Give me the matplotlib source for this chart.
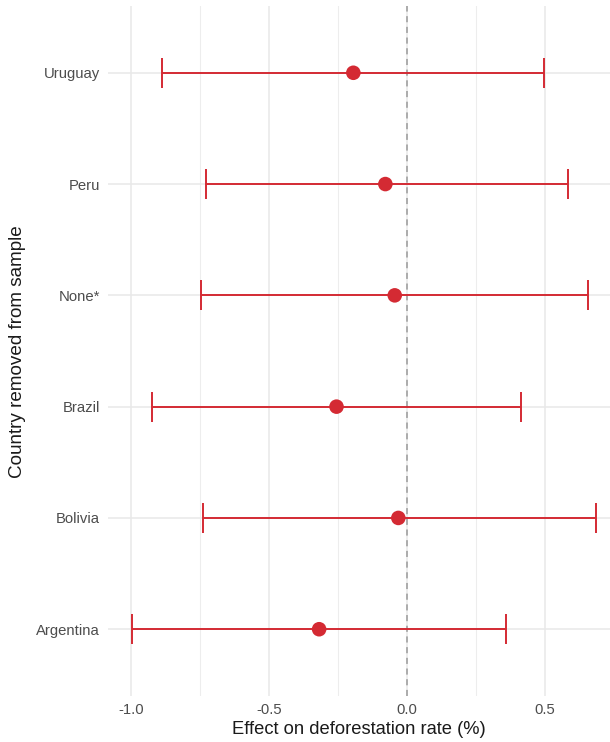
import matplotlib
matplotlib.use("Agg")
import matplotlib.pyplot as plt
from matplotlib.ticker import MultipleLocator

plt.rcParams['font.family'] = ['Liberation Sans', 'DejaVu Sans']

countries = ["Argentina", "Bolivia", "Brazil", "None*", "Peru", "Uruguay"]
estimate = [-0.319, -0.032, -0.256, -0.045, -0.079, -0.195]
lower = [-0.998, -0.739, -0.923, -0.748, -0.728, -0.889]
upper = [0.357, 0.685, 0.414, 0.657, 0.584, 0.496]
xticks = [-1.0, -0.5, 0.0, 0.5]
xticklabels = ["-1.0", "-0.5", "0.0", "0.5"]

red = "#d42a33"

fig = plt.figure(figsize=(6.10, 7.42), dpi=100)
ax = fig.add_axes([108/610, 1 - 696/742, 1 - 108/610, (696 - 6)/742])

ypos = list(range(1, len(countries) + 1))
ax.set_xlim(-1.084, 0.735)
ax.set_ylim(0.4, len(countries) + 0.6)

# grid
ax.set_xticks(xticks)
ax.set_xticklabels(xticklabels)
ax.xaxis.set_minor_locator(MultipleLocator(0.25))
ax.set_yticks(ypos)
ax.set_yticklabels(countries)
ax.grid(True, which="major", color="#e8e8e8", linewidth=1.1)
ax.grid(True, which="minor", axis="x", color="#ededed", linewidth=0.8)
ax.set_axisbelow(True)

ax.axvline(0, color="#9a9a9a", linestyle=(0, (4, 3)), linewidth=1.1, zorder=1)

xerr = [[e - l for e, l in zip(estimate, lower)], [u - e for e, u in zip(estimate, upper)]]
ax.errorbar(estimate, ypos, xerr=xerr, fmt="none", ecolor=red, elinewidth=1.4,
            capsize=11, capthick=1.4, zorder=3)
ax.scatter(estimate, ypos, s=110, color=red, zorder=4, edgecolors="none")

for s in ax.spines.values():
    s.set_visible(False)
ax.tick_params(axis="both", which="both", length=0, colors="#4d4d4d", labelsize=10.7)
ax.tick_params(axis="y", pad=6)
ax.tick_params(axis="x", pad=5)

ax.set_xlabel("Effect on deforestation rate (%)", fontsize=13.2, color="#1a1a1a", labelpad=3)
fig.text(18/610, 1 - 352/742, "Country removed from sample", rotation=90,
         ha="center", va="center", fontsize=13.6, color="#1a1a1a")

fig.savefig("out.png", dpi=100, facecolor="white")
